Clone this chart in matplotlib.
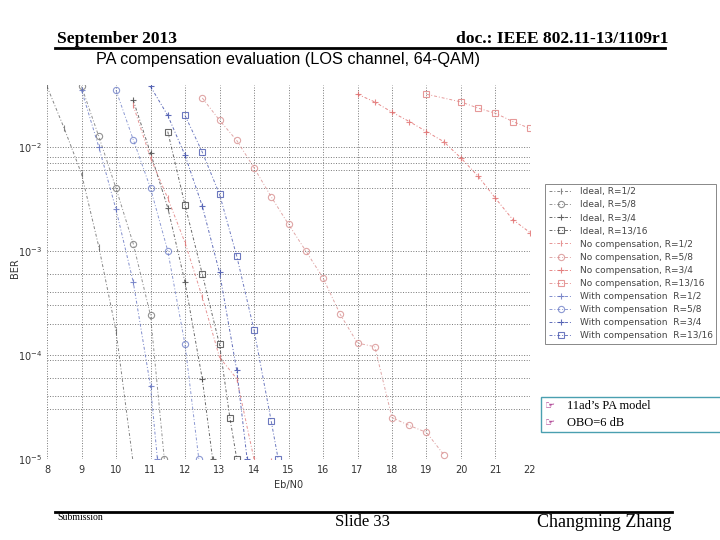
import matplotlib
matplotlib.use('Agg')
import matplotlib.pyplot as plt
from matplotlib.lines import Line2D
from matplotlib.patches import Rectangle
from matplotlib.ticker import FixedLocator, NullFormatter

# Eb/N0 (dB) and BER
ideal_12_x = [8, 8.5, 9, 9.5, 10, 10.5]
ideal_12_y = [3.8e-2, 1.5e-2, 5.5e-3, 1.1e-3, 1.7e-4, 9e-6]
ideal_58_x = [9, 9.5, 10, 10.5, 11, 11.4]
ideal_58_y = [3.8e-2, 1.26e-2, 4.0e-3, 1.17e-3, 2.4e-4, 1.0e-5]
ideal_34_x = [10.5, 11, 11.5, 12, 12.5, 12.8]
ideal_34_y = [2.8e-2, 8.7e-3, 2.6e-3, 5.0e-4, 5.9e-5, 1.0e-5]
ideal_1316_x = [11.5, 12, 12.5, 13, 13.3, 13.5]
ideal_1316_y = [1.4e-2, 2.75e-3, 6.0e-4, 1.26e-4, 2.5e-5, 1.0e-5]

nocomp_12_x = [10.5, 11, 11.5, 12, 12.5, 13, 13.5, 14, 14.5]
nocomp_12_y = [2.5e-2, 7.8e-3, 3.2e-3, 1.2e-3, 3.6e-4, 9.5e-5, 5.9e-5, 1.0e-5, 9.5e-6]
nocomp_58_x = [12.5, 13, 13.5, 14, 14.5, 15, 15.5, 16, 16.5, 17, 17.5, 18, 18.5, 19, 19.5]
nocomp_58_y = [2.95e-2, 1.8e-2, 1.15e-2, 6.3e-3, 3.3e-3, 1.8e-3, 1.0e-3, 5.5e-4,
               2.45e-4, 1.3e-4, 1.2e-4, 2.5e-5, 2.1e-5, 1.8e-5, 1.1e-5]
nocomp_34_x = [17, 17.5, 18, 18.5, 19, 19.5, 20, 20.5, 21, 21.5, 22]
nocomp_34_y = [3.2e-2, 2.7e-2, 2.15e-2, 1.75e-2, 1.4e-2, 1.12e-2, 7.8e-3, 5.2e-3, 3.2e-3, 2.0e-3, 1.5e-3]
nocomp_1316_x = [19, 20, 20.5, 21, 21.5, 22]
nocomp_1316_y = [3.2e-2, 2.7e-2, 2.35e-2, 2.1e-2, 1.75e-2, 1.5e-2]

comp_12_x = [9, 9.5, 10, 10.5, 11, 11.2]
comp_12_y = [3.5e-2, 1.0e-2, 2.5e-3, 5.0e-4, 5.0e-5, 1.0e-5]
comp_58_x = [10, 10.5, 11, 11.5, 12, 12.4]
comp_58_y = [3.5e-2, 1.17e-2, 4.0e-3, 1.0e-3, 1.26e-4, 1.0e-5]
comp_34_x = [11, 11.5, 12, 12.5, 13, 13.5, 13.8]
comp_34_y = [3.8e-2, 2.0e-2, 8.3e-3, 2.7e-3, 6.2e-4, 7.1e-5, 1.0e-5]
comp_1316_x = [12, 12.5, 13, 13.5, 14, 14.5, 14.7]
comp_1316_y = [2.0e-2, 8.9e-3, 3.5e-3, 8.9e-4, 1.74e-4, 2.3e-5, 1.0e-5]

xticks = list(range(8, 23))
yticks = [1e-5, 1e-4, 1e-3, 1e-2]
ytick_labels = ['10$^{-5}$', '10$^{-4}$', '10$^{-3}$', '10$^{-2}$']
minor_grid = [8e-3, 7e-3, 6e-3, 4e-3, 6e-4, 4e-4, 3e-4, 2e-4, 9e-5, 6e-5, 4e-5, 3e-5]

series = [
    (ideal_12_x, ideal_12_y, '#666666', '|', 'Ideal, R=1/2'),
    (ideal_58_x, ideal_58_y, '#777777', 'o', 'Ideal, R=5/8'),
    (ideal_34_x, ideal_34_y, '#444444', '+', 'Ideal, R=3/4'),
    (ideal_1316_x, ideal_1316_y, '#444444', 's', 'Ideal, R=13/16'),
    (nocomp_12_x, nocomp_12_y, '#e07878', '|', 'No compensation, R=1/2'),
    (nocomp_58_x, nocomp_58_y, '#d89090', 'o', 'No compensation, R=5/8'),
    (nocomp_34_x, nocomp_34_y, '#e06a6a', '+', 'No compensation, R=3/4'),
    (nocomp_1316_x, nocomp_1316_y, '#e08080', 's', 'No compensation, R=13/16'),
    (comp_12_x, comp_12_y, '#6070c0', '+', 'With compensation  R=1/2'),
    (comp_58_x, comp_58_y, '#7080c8', 'o', 'With compensation  R=5/8'),
    (comp_34_x, comp_34_y, '#3848a8', '+', 'With compensation  R=3/4'),
    (comp_1316_x, comp_1316_y, '#4858b0', 's', 'With compensation  R=13/16'),
]

fig = plt.figure(figsize=(7.2, 5.4), dpi=100, facecolor='w')
ax = fig.add_axes([0.0653, 0.15, 0.6708, 0.693])

for x, y, c, m, lab in series:
    ax.plot(x, y, color=c, linestyle=(0, (3, 2, 1, 2)), linewidth=0.7, alpha=0.8,
            marker=m, markersize=4.5, markerfacecolor='none', markeredgecolor=c,
            markeredgewidth=0.8, label=lab)

ax.set_yscale('log')
ax.set_xlim(8, 22)
ax.set_ylim(1e-5, 10 ** -1.404)
ax.set_xticks(xticks)
ax.set_yticks(yticks)
ax.set_yticklabels(ytick_labels)
ax.yaxis.set_minor_locator(FixedLocator(minor_grid))
ax.yaxis.set_minor_formatter(NullFormatter())
ax.grid(True, which='major', linestyle=':', color='#777777', linewidth=0.7)
ax.grid(True, which='minor', axis='y', linestyle=':', color='#777777', linewidth=0.7)
ax.tick_params(which='both', length=0, labelsize=7, colors='#333333')
ax.tick_params(axis='x', pad=4)
for s in ax.spines.values():
    s.set_visible(False)
ax.set_xlabel('Eb/N0', fontsize=7, color='#333333', labelpad=4)

fig.text(0.021, 0.504, 'BER', rotation=90, fontsize=7, color='#333333', va='center', ha='center')
fig.text(0.133, 0.889, 'PA compensation evaluation (LOS channel, 64-QAM)',
         fontsize=11.7, family='Liberation Sans', va='center', ha='left')

lgd = fig.legend(loc='upper left', bbox_to_anchor=(0.751, 0.668), fontsize=6.5,
                 handlelength=2.6, labelspacing=0.45, borderpad=0.4,
                 fancybox=False, edgecolor='#888888', framealpha=1)
for t in lgd.get_texts():
    t.set_color('#444444')
lgd.get_frame().set_linewidth(0.7)

# slide header and footer
fig.text(0.079, 0.927, 'September 2013', fontsize=12.6, fontweight='bold',
         family='Liberation Serif', ha='left', va='center')
fig.text(0.928, 0.927, 'doc.: IEEE 802.11-13/1109r1', fontsize=12.6, fontweight='bold',
         family='Liberation Serif', ha='right', va='center')
fig.add_artist(Line2D([0.076, 0.924], [0.911, 0.911], color='k', linewidth=2))

fig.add_artist(Line2D([0.076, 0.933], [0.052, 0.052], color='k', linewidth=2))
fig.text(0.079, 0.042, 'Submission', fontsize=7, family='Liberation Serif', ha='left', va='center')
fig.text(0.503, 0.033, 'Slide 33', fontsize=12, family='Liberation Serif', ha='center', va='center')
fig.text(0.933, 0.033, 'Changming Zhang', fontsize=13, family='Liberation Serif', ha='right', va='center')

# note box
fig.add_artist(Rectangle((0.751, 0.2), 0.26, 0.065, transform=fig.transFigure,
                         facecolor='w', edgecolor='#4a9fb0', linewidth=1))
fig.text(0.757, 0.248, '\u261e', fontsize=8, color='#a02080', family='DejaVu Sans', va='center')
fig.text(0.757, 0.217, '\u261e', fontsize=8, color='#a02080', family='DejaVu Sans', va='center')
fig.text(0.7875, 0.248, '11ad\u2019s PA model', fontsize=9, family='Liberation Serif', va='center')
fig.text(0.7875, 0.217, 'OBO=6 dB', fontsize=9, family='Liberation Serif', va='center')

fig.savefig('out.png', dpi=100)
